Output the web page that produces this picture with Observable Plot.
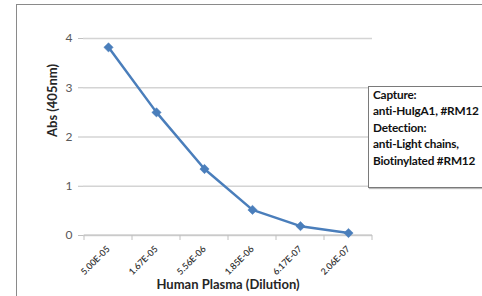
<!DOCTYPE html>
<html>
<head>
<meta charset="utf-8">
<script src="https://cdn.jsdelivr.net/npm/d3@7"></script>
<script src="https://cdn.jsdelivr.net/npm/@observablehq/plot@0.6"></script>
<style>
  html, body { margin: 0; padding: 0; background: #fff; }
  body { width: 482px; height: 296px; overflow: hidden; position: relative; font-family: Lato, "Open Sans", sans-serif; }
  #frame { position: absolute; left: 16px; top: 4px; width: 600px; height: 400px; border: 1.5px solid #8a8a8a; box-sizing: border-box; pointer-events: none; }
  #chart { position: absolute; left: 0; top: 0; }
  #legend { position: absolute; left: 368px; top: 86px; width: 160px; height: 102px; background: #fff;
            border: 1px solid #7a7a7a; box-shadow: 1px 1px 1px #bbb; box-sizing: border-box;
            padding: 0 0 0 4px; font-family: Lato, sans-serif; font-weight: bold; font-size: 11.8px;
            letter-spacing: -0.2px; line-height: 16.4px; color: #111; white-space: nowrap; }
</style>
</head>
<body>
<div id="chart"></div>
<div id="frame"></div>
<div id="legend"></div>
<script>
const dilutions = ["5.00E-05", "1.67E-05", "5.56E-06", "1.85E-06", "6.17E-07", "2.06E-07"];
const absorbance = [3.82, 2.50, 1.35, 0.52, 0.19, 0.05];
const yTicks = [0, 1, 2, 3, 4];
const yTitle = "Abs (405nm)";
const xTitle = "Human Plasma (Dilution)";
const legendLines = ["Capture:", "anti-HuIgA1, #RM12", "Detection:", "anti-Light chains,", "Biotinylated #RM12"];

const data = dilutions.map((d, i) => ({dilution: d, abs: absorbance[i]}));
const blue = "#4a7ebb";

function boundaryTicks(index, scales) {
  const x = scales.x, y = scales.y;
  const step = x(dilutions[1]) - x(dilutions[0]);
  const y0 = y(0);
  const g = d3.create("svg:g").attr("stroke", "#c0c0c0").attr("stroke-width", 1);
  for (let i = 0; i <= dilutions.length; i++) {
    const px = x(dilutions[0]) - step / 2 + i * step;
    g.append("line").attr("x1", px).attr("x2", px).attr("y1", y0).attr("y2", y0 + 5);
  }
  g.append("line")
    .attr("x1", x(dilutions[0]) - step / 2).attr("x2", x(dilutions[dilutions.length - 1]) + step / 2)
    .attr("y1", y0).attr("y2", y0);
  return g.node();
}

const chart = Plot.plot({
  width: 482,
  height: 296,
  marginLeft: 83,
  marginRight: 110,
  marginTop: 38,
  marginBottom: 61,
  style: {fontFamily: "Lato, sans-serif", background: "transparent"},
  x: {type: "point", domain: dilutions, padding: 0.5, label: null, axis: null},
  y: {domain: [0, 4], label: null, axis: null},
  marks: [
    Plot.gridY(yTicks, {stroke: "#d4d4d4", strokeWidth: 1.5, strokeOpacity: 1}),
    Plot.ruleX([0], {x: () => null, frameAnchor: "left", y1: 0, y2: 4, stroke: "#c0c0c0"}),
    Plot.axisY({ticks: yTicks, tickFormat: d3.format("d"), tickSize: 5, tickPadding: 6, fontSize: 12, stroke: "#c0c0c0", fill: "#595959", label: null}),
    boundaryTicks,
    Plot.text(dilutions, {x: d => d, frameAnchor: "bottom", dy: 14, dx: 2, rotate: -45, textAnchor: "end", fontSize: 9, fontWeight: 600, fill: "#333"}),
    Plot.text([yTitle], {frameAnchor: "left", dx: -31, rotate: -90, fontWeight: "bold", fontSize: 13, fill: "#262626"}),
    Plot.text([xTitle], {frameAnchor: "bottom", dy: 53, fontWeight: "bold", fontSize: 13, fill: "#262626"}),
    Plot.line(data, {x: "dilution", y: "abs", stroke: blue, strokeWidth: 2.5}),
    Plot.dot(data, {x: "dilution", y: "abs", symbol: "diamond2", r: 4.2, fill: blue, stroke: blue, strokeWidth: 0.5})
  ]
});
document.getElementById("chart").appendChild(chart);

const legend = document.getElementById("legend");
legendLines.forEach(t => { const d = document.createElement("div"); d.textContent = t; legend.appendChild(d); });
</script>
</body>
</html>
